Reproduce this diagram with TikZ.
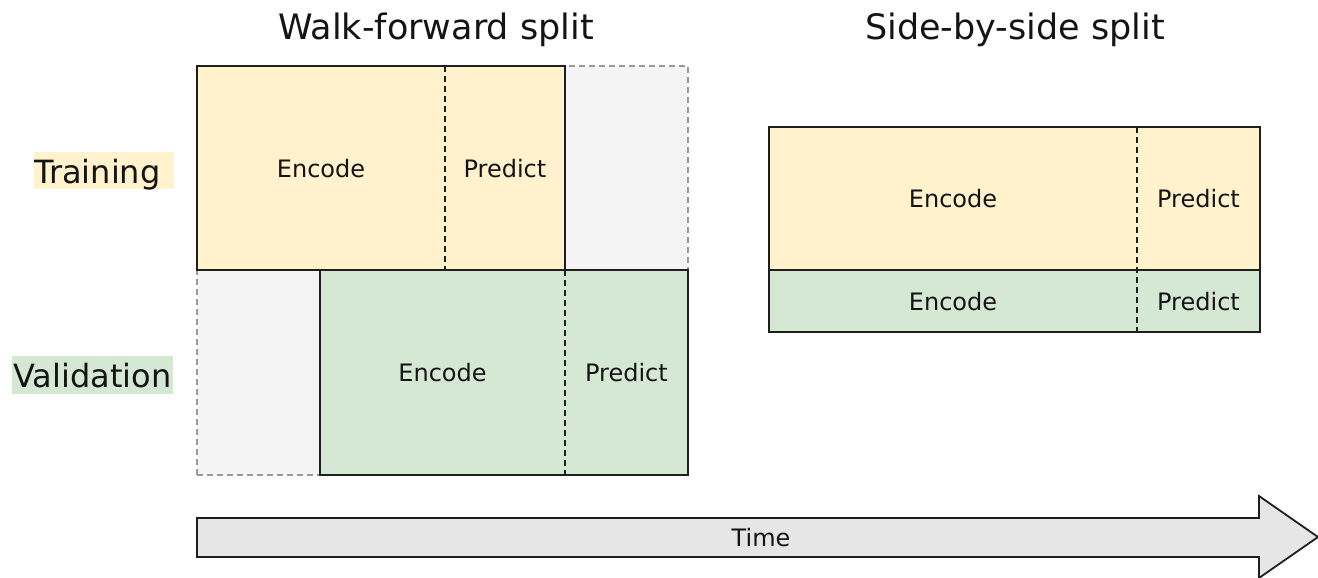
\documentclass[tikz,border=0pt]{standalone}
\usepackage{fontspec}
\setmainfont{DejaVu Sans}
\definecolor{trainfill}{HTML}{FFF2CC}
\definecolor{valfill}{HTML}{D5E8D4}
\definecolor{idlefill}{HTML}{F4F4F4}
\definecolor{idleedge}{HTML}{999999}
\definecolor{timefill}{HTML}{E6E6E6}
\definecolor{edge}{HTML}{1E1E1E}
\begin{document}
\begin{tikzpicture}[x=1pt,y=-1pt,
  region/.style={anchor=north west,inner sep=0pt,outer sep=0pt,draw=none,
    font=\fontsize{24}{28}\selectfont,text=black!92,text height=18pt,text depth=0pt},
  idle/.style={anchor=north west,inner sep=0pt,outer sep=0pt,fill=idlefill,
    draw=idleedge,line width=1.4pt,dash pattern=on 6pt off 4pt},
  frame/.style={draw=edge,line width=1.8pt},
  cut/.style={draw=edge,line width=1.8pt,dash pattern=on 6pt off 4pt},
  heading/.style={anchor=base,inner sep=0pt,font=\fontsize{35}{41}\selectfont,text=black!92},
  rowlabel/.style={inner sep=0pt,font=\fontsize{32}{38}\selectfont,text=black!92},
  labelbg/.style={inner sep=0pt,draw=none}]
\useasboundingbox (0,0) rectangle (1318,578);

% headings
\node[heading] (wtitle) at (436,40) {Walk-forward split};
\node[heading] (stitle) at (1015,40) {Side-by-side split};

% row labels
\node[labelbg,fill=trainfill,minimum width=140,minimum height=37] (trainbg) at (104,170.5) {};
\node[rowlabel,anchor=base west] (trainlab) at (34,183) {Training};
\node[labelbg,fill=valfill,minimum width=161,minimum height=38] (valbg) at (92.5,375) {};
\node[rowlabel,anchor=base] (vallab) at (92.5,387) {Validation};

% walk-forward split
\node[idle,minimum width=123,minimum height=204] (wtidle) at (565,66) {};
\node[idle,minimum width=123,minimum height=205] (wvidle) at (197,270) {};
\node[region,fill=trainfill,minimum width=248,minimum height=204] (wtE) at (197,66) {Encode};
\node[region,fill=trainfill,minimum width=120,minimum height=204] (wtP) at (445,66) {Predict};
\node[region,fill=valfill,minimum width=245,minimum height=205] (wvE) at (320,270) {Encode};
\node[region,fill=valfill,minimum width=123,minimum height=205] (wvP) at (565,270) {Predict};
\draw[frame] (wtE.north west) rectangle (wtP.south east);
\draw[frame] (wvE.north west) rectangle (wvP.south east);
\draw[cut] (wtE.north east) -- (wtE.south east);
\draw[cut] (wvE.north east) -- (wvE.south east);

% side-by-side split
\node[region,fill=trainfill,minimum width=368,minimum height=143] (stE) at (769,127) {Encode};
\node[region,fill=trainfill,minimum width=123,minimum height=143] (stP) at (1137,127) {Predict};
\node[region,fill=valfill,minimum width=368,minimum height=62] (svE) at (769,270) {Encode};
\node[region,fill=valfill,minimum width=123,minimum height=62] (svP) at (1137,270) {Predict};
\draw[frame] (stE.north west) rectangle (stP.south east);
\draw[frame] (svE.north west) rectangle (svP.south east);
\draw[cut] (stE.north east) -- (svE.south east);

% time axis
\draw[fill=timefill,draw=edge,line width=1.8pt,line join=miter]
  (197,518) -- (1259,518) -- (1259,496) -- (1318,537) -- (1259,578)
  -- (1259,557) -- (197,557) -- cycle;
\node[inner sep=0pt,font=\fontsize{24}{28}\selectfont,text=black!92] (time) at (761,538) {Time};
\end{tikzpicture}
\end{document}
